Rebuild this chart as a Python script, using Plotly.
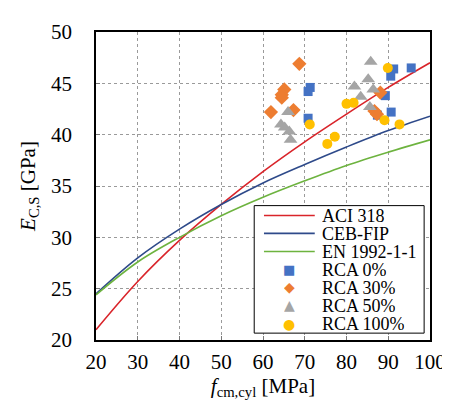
import plotly.graph_objects as go

# Design-code curves
f_curve = [20, 30, 40, 50, 60, 70, 80, 90, 100]
aci_318 = [21.0, 25.7, 29.7, 33.2, 36.4, 39.3, 42.0, 44.6, 47.0]
ceb_fip = [24.5, 28.0, 30.8, 33.2, 35.3, 37.1, 38.8, 40.4, 41.8]
en_1992 = [24.4, 27.6, 30.0, 32.1, 33.9, 35.5, 37.0, 38.3, 39.5]

# Experimental points
rca0_f = [71.3, 70.8, 70.8, 91.3, 90.6, 95.5, 89.3, 90.7, 87.4]
rca0_e = [44.6, 44.2, 41.6, 46.4, 45.7, 46.5, 43.8, 42.2, 41.9]

rca30_f = [68.7, 65.1, 64.5, 64.5, 61.9, 67.3, 88.1, 86.7, 87.3]
rca30_e = [46.9, 44.4, 43.9, 43.6, 42.2, 42.4, 44.1, 42.3, 42.0]

rca50_f = [66.0, 64.3, 65.2, 66.3, 66.6, 85.8, 85.2, 81.9, 86.4, 83.4, 85.6]
rca50_e = [42.2, 41.0, 40.7, 40.3, 39.5, 47.1, 45.4, 44.7, 44.4, 43.7, 42.7]

rca100_f = [71.2, 80.0, 81.7, 89.9, 89.1, 92.7, 77.2, 75.4]
rca100_e = [41.0, 43.0, 43.1, 46.5, 41.4, 41.0, 39.8, 39.1]

x_ticks = [20, 30, 40, 50, 60, 70, 80, 90, 100]
y_ticks = [20, 25, 30, 35, 40, 45, 50]

legend_names = ["ACI 318", "CEB-FIP", "EN 1992-1-1", "RCA 0%", "RCA 30%", "RCA 50%", "RCA 100%"]

FONT = "Liberation Serif"
C_ACI, C_CEB, C_EN = "#d9242a", "#2e4a8a", "#6db33f"
C0, C30, C50, C100 = "#4472c4", "#ed7d31", "#a5a5a5", "#ffc000"

fig = go.Figure()
fig.add_trace(go.Scatter(x=f_curve, y=aci_318, mode="lines", name=legend_names[0],
                         line=dict(color=C_ACI, width=1.6, shape="spline")))
fig.add_trace(go.Scatter(x=f_curve, y=ceb_fip, mode="lines", name=legend_names[1],
                         line=dict(color=C_CEB, width=1.6, shape="spline")))
fig.add_trace(go.Scatter(x=f_curve, y=en_1992, mode="lines", name=legend_names[2],
                         line=dict(color=C_EN, width=1.6, shape="spline")))
fig.add_trace(go.Scatter(x=rca0_f, y=rca0_e, mode="markers", name=legend_names[3],
                         marker=dict(symbol="square", size=9, color=C0)))
fig.add_trace(go.Scatter(x=rca30_f, y=rca30_e, mode="markers", name=legend_names[4],
                         marker=dict(symbol="diamond", size=11, color=C30)))
fig.add_trace(go.Scatter(x=rca50_f, y=rca50_e, mode="markers", name=legend_names[5],
                         marker=dict(symbol="triangle-up", size=12, color=C50)))
fig.add_trace(go.Scatter(x=rca100_f, y=rca100_e, mode="markers", name=legend_names[6],
                         marker=dict(symbol="circle", size=10, color=C100)))

axis_common = dict(
    showgrid=True, gridcolor="#9a9a9a", griddash="dot", gridwidth=1,
    showline=True, linecolor="black", linewidth=1.5, mirror=True,
    ticks="inside", ticklen=4, tickcolor="#777", zeroline=False,
    tickfont=dict(family=FONT, size=21, color="black"),
)

# ---- manual legend (paper coords) ----
L, R, T, B = 88, 430, 18, 332
W, H = R - L, B - T
def px(x):
    return (x - L) / W
def py(y):
    return (B - y) / H

shapes = [dict(type="rect", xref="paper", yref="paper",
               x0=px(250), x1=px(424), y0=py(325), y1=py(195),
               line=dict(color="black", width=1), fillcolor="white", layer="above")]
annotations = []
row_y = [205, 223.3, 241.7, 260, 278.3, 296.7, 315.5]
line_cols = [C_ACI, C_CEB, C_EN]
for i, c in enumerate(line_cols):
    shapes.append(dict(type="line", xref="paper", yref="paper",
                       x0=px(260), x1=px(312), y0=py(row_y[i]), y1=py(row_y[i]),
                       line=dict(color=c, width=1.6), layer="above"))
glyphs = [("■", C0, 13), ("◆", C30, 14), ("▲", C50, 14), ("●", C100, 14)]
for j, (g, c, s) in enumerate(glyphs):
    annotations.append(dict(xref="paper", yref="paper", x=px(286), y=py(row_y[3 + j]),
                            text=g, showarrow=False, xanchor="center", yanchor="middle",
                            height=16, borderpad=0,
                            font=dict(family="DejaVu Sans", size=s, color=c)))
for i, name in enumerate(legend_names):
    annotations.append(dict(xref="paper", yref="paper", x=px(318), y=py(row_y[i]),
                            text=name, showarrow=False, xanchor="left", yanchor="middle",
                            height=17, borderpad=0,
                            font=dict(family=FONT, size=18, color="black")))

fig.update_layout(
    width=450, height=405,
    margin=dict(l=88, r=20, t=18, b=73),
    paper_bgcolor="white", plot_bgcolor="white",
    font=dict(family=FONT, color="black"),
    xaxis=dict(range=[20, 100], tickvals=x_ticks, ticklabelstandoff=2,
               title=dict(text="<i>f</i><sub>cm,cyl</sub> [MPa]",
                          font=dict(family=FONT, size=21), standoff=4),
               **axis_common),
    yaxis=dict(range=[20, 50], tickvals=y_ticks, ticklabelstandoff=18,
               title=dict(text="<i>E</i><sub>C,S</sub> [GPa]",
                          font=dict(family=FONT, size=21), standoff=10),
               **axis_common),
    shapes=shapes,
    annotations=annotations,
    showlegend=False,
)

fig.write_html("out.html")
